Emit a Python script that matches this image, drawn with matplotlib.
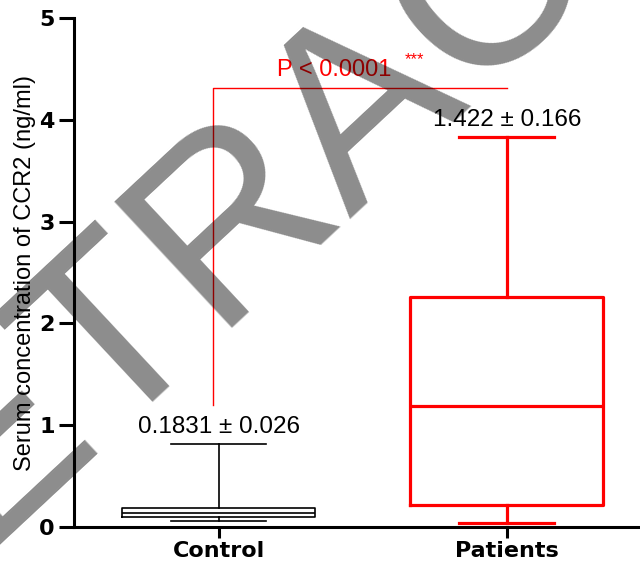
import matplotlib
matplotlib.use("Agg")
import matplotlib.pyplot as plt

plt.rcParams['font.family'] = ['Liberation Sans', 'DejaVu Sans']

groups = ["Control", "Patients"]
whislo = [0.06, 0.04]
q1 = [0.10, 0.216]
med = [0.14, 1.19]
q3 = [0.187, 2.26]
whishi = [0.815, 3.83]
mean_labels = ["0.1831 ± 0.026", "1.422 ± 0.166"]
colors = ["black", "red"]
widths_lw = [1.2, 2.3]
p_text = "P < 0.0001"
bracket_y = 4.31
bracket_bottom = 1.2

fig = plt.figure(figsize=(6.4, 5.64), dpi=100)
ax = fig.add_axes([0.1156, 0.0656, 0.8844, 0.9024])

for i in range(2):
    st = [dict(whislo=whislo[i], q1=q1[i], med=med[i], q3=q3[i],
               whishi=whishi[i], label=groups[i])]
    c = colors[i]
    lw = widths_lw[i]
    ax.bxp(st, positions=[i + 1], widths=0.67, capwidths=0.33, showfliers=False,
           boxprops=dict(color=c, linewidth=lw),
           medianprops=dict(color=c, linewidth=lw),
           whiskerprops=dict(color=c, linewidth=lw),
           capprops=dict(color=c, linewidth=lw))
    ax.text(i + 1, whishi[i] + 0.11, mean_labels[i], ha="center", va="baseline",
            fontsize=17.5, color="black")

# significance bracket
ax.plot([0.98, 0.98, 2.0], [bracket_bottom, bracket_y, bracket_y], color="red", lw=1.0)
ax.text(1.40, 4.43, p_text, ha="center", va="baseline", fontsize=17, color="red")
ax.text(1.645, 4.55, "***", ha="left", va="baseline", fontsize=12, color="red")

ax.set_xlim(0.497, 2.462)
ax.set_ylim(0, 5)
ax.set_xticks([1, 2])
ax.set_xticklabels(groups)
ax.set_yticks([0, 1, 2, 3, 4, 5])
ax.set_yticklabels(["0", "1", "2", "3", "4", "5"])
for lab in ax.get_xticklabels() + ax.get_yticklabels():
    lab.set_family("DejaVu Sans")
    lab.set_fontweight("bold")
    lab.set_fontsize(16)
ax.tick_params(axis="y", length=11, width=2.2, pad=3)
ax.tick_params(axis="x", length=8, width=2.2, pad=2)
for s in ["top", "right"]:
    ax.spines[s].set_visible(False)
for s in ["left", "bottom"]:
    ax.spines[s].set_linewidth(2.2)
ax.set_ylabel("Serum concentration of CCR2 (ng/ml)", fontsize=17, labelpad=2)

# watermark
fig.text(406 / 640, 1 - 148 / 564, "RETRACTED", fontsize=180, rotation=43,
         rotation_mode="anchor", ha="center", va="baseline",
         color=(0, 0, 0, 0.45), zorder=10)

fig.savefig("out.png", dpi=100)
